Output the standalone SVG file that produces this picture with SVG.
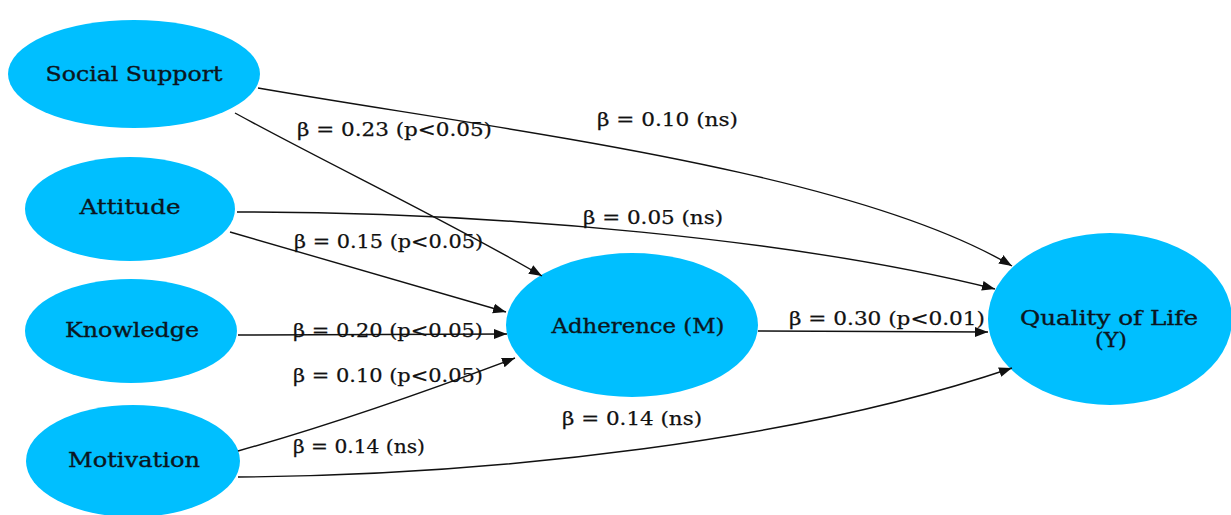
<svg xmlns="http://www.w3.org/2000/svg" width="1231" height="515" viewBox="0 0 1231 515">
<style>
.node ellipse{fill:#00BFFF;stroke:none}
.nl{font-family:"DejaVu Serif","Liberation Serif",serif;font-size:19.5px;fill:#0b1620;stroke:#0b1620;stroke-width:0.35;text-anchor:middle}
.el{font-family:"DejaVu Serif","Liberation Serif",serif;font-size:18.5px;fill:#111;stroke:#111;stroke-width:0.25}
.edges path{fill:none;stroke:#111;stroke-width:1.4}
</style>
<defs>
<marker id="arr" viewBox="0 0 10 10" refX="10" refY="5" markerWidth="13" markerHeight="13" markerUnits="userSpaceOnUse" orient="auto">
<path d="M0,1.2 L10,5 L0,8.8 Z" fill="#111"/>
</marker>
</defs>
<rect width="1231" height="515" fill="#fff"/>
<g id="n-social" class="node"><ellipse cx="134" cy="74" rx="126" ry="54"/><text class="nl" x="134" y="81" textLength="177" lengthAdjust="spacingAndGlyphs">Social Support</text></g>
<g id="n-attitude" class="node"><ellipse cx="130" cy="209" rx="105" ry="52"/><text class="nl" x="130" y="214" textLength="101" lengthAdjust="spacingAndGlyphs">Attitude</text></g>
<g id="n-knowledge" class="node"><ellipse cx="131" cy="331" rx="106" ry="52"/><text class="nl" x="132" y="337" textLength="134" lengthAdjust="spacingAndGlyphs">Knowledge</text></g>
<g id="n-motivation" class="node"><ellipse cx="133" cy="461" rx="107" ry="56"/><text class="nl" x="134" y="467" textLength="132" lengthAdjust="spacingAndGlyphs">Motivation</text></g>
<g id="n-adherence" class="node"><ellipse cx="632" cy="325" rx="126" ry="72"/><text class="nl" x="638" y="333" textLength="173" lengthAdjust="spacingAndGlyphs">Adherence (M)</text></g>
<g id="n-qol" class="node"><ellipse cx="1110" cy="319" rx="122" ry="86"/><text class="nl" x="1109" y="325" textLength="178" lengthAdjust="spacingAndGlyphs">Quality of Life</text><text class="nl" x="1111" y="347" textLength="32" lengthAdjust="spacingAndGlyphs">(Y)</text></g>
<g id="edges" class="edges">
<path d="M258,88 C500,130 850,170 1012,266" marker-end="url(#arr)"/>
<path d="M235,113 C330,165 450,222 542,276" marker-end="url(#arr)"/>
<path d="M237,212 C500,212 800,240 995,289" marker-end="url(#arr)"/>
<path d="M230,232 L506,312" marker-end="url(#arr)"/>
<path d="M238,335 L507,334" marker-end="url(#arr)"/>
<path d="M238,451 C330,425 430,390 515,358" marker-end="url(#arr)"/>
<path d="M238,477 C500,475 800,440 1012,368" marker-end="url(#arr)"/>
<path d="M758,331 L988,332" marker-end="url(#arr)"/>
</g>
<g id="labels">
<text class="el" x="297" y="136" textLength="195" lengthAdjust="spacingAndGlyphs">β = 0.23 (p&lt;0.05)</text>
<text class="el" x="597" y="126" textLength="141" lengthAdjust="spacingAndGlyphs">β = 0.10 (ns)</text>
<text class="el" x="583" y="224" textLength="140" lengthAdjust="spacingAndGlyphs">β = 0.05 (ns)</text>
<text class="el" x="294" y="248" textLength="189" lengthAdjust="spacingAndGlyphs">β = 0.15 (p&lt;0.05)</text>
<text class="el" x="293" y="337" textLength="190" lengthAdjust="spacingAndGlyphs">β = 0.20 (p&lt;0.05)</text>
<text class="el" x="293" y="382" textLength="190" lengthAdjust="spacingAndGlyphs">β = 0.10 (p&lt;0.05)</text>
<text class="el" x="293" y="453" textLength="132" lengthAdjust="spacingAndGlyphs">β = 0.14 (ns)</text>
<text class="el" x="562" y="425" textLength="140" lengthAdjust="spacingAndGlyphs">β = 0.14 (ns)</text>
<text class="el" x="789" y="325" textLength="196" lengthAdjust="spacingAndGlyphs">β = 0.30 (p&lt;0.01)</text>
</g>
</svg>
